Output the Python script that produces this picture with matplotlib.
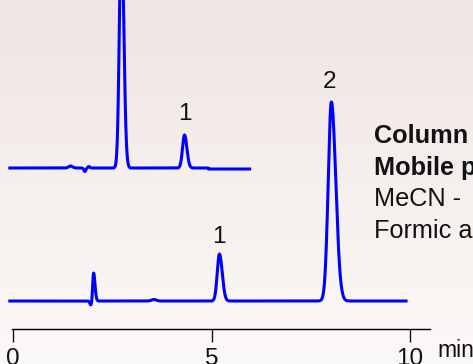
import numpy as np
import matplotlib
matplotlib.use("Agg")
import matplotlib.pyplot as plt

# ---- data (retention time in min, signal in arbitrary units) ----
# lower chromatogram
lower_rt = [1.96, 2.03, 3.55, 5.20, 8.02]
lower_height = [-4.0, 28.0, 1.5, 47.0, 199.0]
lower_sigma_l = [0.025, 0.022, 0.06, 0.055, 0.080]
lower_sigma_r = [0.025, 0.035, 0.06, 0.070, 0.110]
lower_baseline = 28.0
lower_range = [-0.08, 9.90]

# upper chromatogram
upper_rt = [1.45, 1.81, 1.91, 2.73, 4.32]
upper_height = [2.0, -3.5, 1.5, 240.0, 33.0]
upper_sigma_l = [0.05, 0.025, 0.025, 0.050, 0.050]
upper_sigma_r = [0.05, 0.025, 0.025, 0.060, 0.060]
upper_baseline = 161.0
upper_step_at = 4.92
upper_step = -1.0
upper_range = [-0.08, 5.96]

# peak labels: (rt, text, y)
label_rt = [4.34, 5.18, 7.98]
label_text = ["1", "1", "2"]
label_y = [209, 86, 241]

ticks = [0, 5, 10]
tick_labels = ["0", "5", "10"]
info_lines = ["Column", "Mobile p", "MeCN -", "Formic a"]
info_bold = [True, True, False, False]

W, H = 473, 364
fig = plt.figure(figsize=(W / 100, H / 100), dpi=100)

# background gradient
bg = fig.add_axes([0, 0, 1, 1])
grad = np.linspace(0, 1, 256)[:, None]
top = np.array([239, 229, 226]) / 255
bot = np.array([251, 249, 248]) / 255
img = top[None, None, :] * (1 - grad[:, :, None]) + bot[None, None, :] * grad[:, :, None]
bg.imshow(img, aspect="auto", extent=[0, 1, 0, 1])
bg.set_axis_off()

plt.rcParams["font.family"] = ["Liberation Sans", "DejaVu Sans"]

# main axes: left px 12 .. 430, bottom at px 329
ax = fig.add_axes([12 / W, (H - 329) / H, (430 - 12) / W, 329 / H])
ax.patch.set_alpha(0)
pxmin = 39.7
ax.set_xlim(-1 / pxmin, (430 - 13) / pxmin)
ax.set_ylim(0, 329)


def trace(rng, rts, hs, sl, sr, base):
    t = np.linspace(rng[0], rng[1], 3000)
    y = np.full_like(t, base)
    for r, h, a, b in zip(rts, hs, sl, sr):
        s = np.where(t < r, a, b)
        y += h * np.exp(-0.5 * ((t - r) / s) ** 2)
    return t, y


t1, y1 = trace(lower_range, lower_rt, lower_height, lower_sigma_l, lower_sigma_r, lower_baseline)
t2, y2 = trace(upper_range, upper_rt, upper_height, upper_sigma_l, upper_sigma_r, upper_baseline)
y2 = y2 + np.where(t2 > upper_step_at, upper_step, 0.0)

ax.plot(t1, y1, color="#0000ff", lw=2.2, clip_on=False, solid_joinstyle="round")
ax.plot(t2, y2, color="#0000ff", lw=2.2, clip_on=False, solid_joinstyle="round")

for r, s, yy in zip(label_rt, label_text, label_y):
    ax.text(r, yy, s, ha="center", va="baseline", fontsize=17.5, color="#111111")

for sp in ["top", "right", "left"]:
    ax.spines[sp].set_visible(False)
ax.spines["bottom"].set_linewidth(1.0)
ax.set_yticks([])
ax.set_xticks(ticks)
ax.set_xticklabels(tick_labels, fontsize=17.5)
ax.tick_params(axis="x", direction="out", length=9.5, width=1.0, pad=4, colors="#111111")

fig.text(437 / W, (H - 364) / H + 0.005, "min", fontsize=16.5, ha="left", va="bottom", color="#111111")

baselines = [143, 174.5, 206, 237.5]
for s, b, yb in zip(info_lines, info_bold, baselines):
    fig.text(374 / W, (H - yb) / H, s, fontsize=18.2, ha="left", va="baseline",
             fontweight="bold" if b else "normal", color="#111111")

fig.savefig("out.png", dpi=100)
